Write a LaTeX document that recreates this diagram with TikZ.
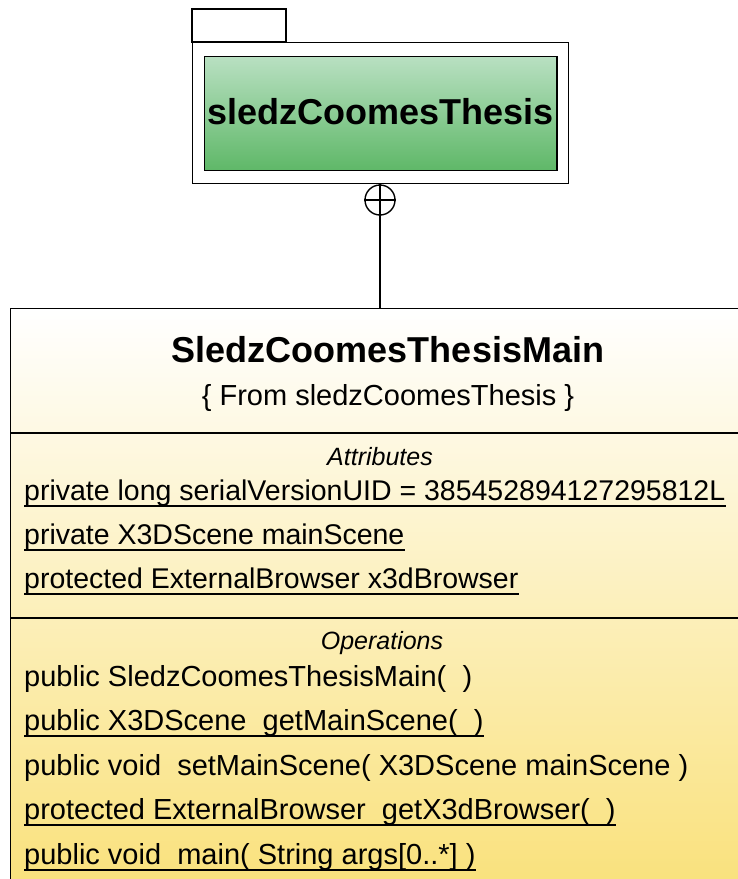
\documentclass[tikz,border=0pt]{standalone}
\usepackage{fontspec}
\setmainfont{Liberation Sans}
\usetikzlibrary{positioning}
\tikzset{
	frame/.style = {draw, line width=1.4pt},
	member/.style = {anchor=base west, inner sep=0pt, font=\fontsize{29}{34}\selectfont},
	heading/.style = {anchor=base, inner sep=0pt, font=\fontsize{25}{30}\selectfont\itshape},
	uline/.style = {line width=1.2pt},
}
\definecolor{pkgtop}{HTML}{B9E0C2}
\definecolor{pkgbot}{HTML}{5FB868}
\definecolor{clsbot}{HTML}{F9E077}

\begin{document}
\begin{tikzpicture}[x=1pt, y=-1pt]
			\useasboundingbox (0,0) rectangle (738,879);
			% package with its tab
			\draw[frame] (192,9) rectangle (286,42);
			\node (pkg) [frame, anchor=north west, minimum width=376pt, minimum height=141pt] at (192,42) {};
			\node (pkgname) [frame, top color=pkgtop, bottom color=pkgbot, minimum width=350pt, minimum height=114pt,
				text depth=4pt, font=\bfseries\fontsize{36}{40}\selectfont] at (pkg.center) {sledzCoomesThesis};
			% class
			\node (cls) [frame, top color=white, bottom color=clsbot, anchor=north west, minimum width=756pt, minimum height=600pt] at (10,308) {};
			\draw[frame] (cls.west |- 0,433) -- (cls.east |- 0,433);
			\draw[frame] (cls.west |- 0,618) -- (cls.east |- 0,618);
			\node (title) [anchor=base, inner sep=0pt, font=\bfseries\fontsize{36}{40}\selectfont] at (388,362) {SledzCoomesThesisMain};
			\node (from) [anchor=base, inner sep=0pt, font=\fontsize{29}{34}\selectfont] at (388,405) {\{ From sledzCoomesThesis \}};
			\node (attrs) [heading] at (380,465) {Attributes};
			\node (a1) [member, font=\fontsize{28.5}{34}\selectfont] at (24,500) {private long serialVersionUID = 385452894127295812L};
			\node (a2) [member, font=\fontsize{28.5}{34}\selectfont] at (24,544) {private X3DScene mainScene};
			\node (a3) [member, font=\fontsize{28.5}{34}\selectfont] at (24,588) {protected ExternalBrowser x3dBrowser};
			\node (ops) [heading] at (382,649) {Operations};
			\node (o1) [member] at (24,686) {public SledzCoomesThesisMain(~ )};
			\node (o2) [member] at (24,730) {public X3DScene~ getMainScene(~ )};
			\node (o3) [member] at (24,775) {public void~ setMainScene( X3DScene mainScene )};
			\node (o4) [member] at (24,819) {protected ExternalBrowser~ getX3dBrowser(~ )};
			\node (o5) [member] at (24,864) {public void~ main( String args[0..*] )};
			\foreach \n in {a1,a2,a3,o2,o4,o5}
				\draw[uline] ([yshift=-6pt]\n.base west) -- ([yshift=-6pt]\n.base east);
			% nesting connector
			\node (nest) [frame, circle, minimum size=30pt, inner sep=0pt] at (380,200) {};
			\draw[frame] (pkg) -- (nest);
			\draw[frame] (nest.north) -- (nest.south) (nest.west) -- (nest.east);
			\draw[frame] (nest) -- (nest |- cls.north);
		\end{tikzpicture}
\end{document}
